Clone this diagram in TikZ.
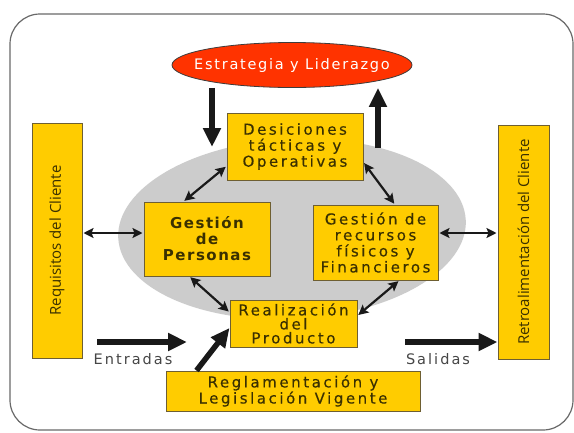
\documentclass[tikz,border=0pt]{standalone}
\usepackage{fontspec}
\setmainfont{DejaVu Sans}
\newfontfamily\boxfont[LetterSpace=17,FakeBold=0.3]{DejaVu Sans}
\newfontfamily\boldboxfont[LetterSpace=10]{DejaVu Sans Bold}
\newfontfamily\leadfont[LetterSpace=12]{DejaVu Sans}
\newfontfamily\lblfont[LetterSpace=14]{DejaVu Sans}
\newfontfamily\sidefont{Open Sans}
\usetikzlibrary{arrows.meta,shapes.geometric}
\definecolor{boxyellow}{RGB}{255,204,0}
\definecolor{boxedge}{RGB}{110,95,50}
\definecolor{boxtext}{RGB}{58,48,0}
\definecolor{redfill}{RGB}{255,51,0}
\definecolor{coregray}{RGB}{204,204,204}
\definecolor{arrowblack}{RGB}{25,25,25}
\definecolor{labelgray}{RGB}{70,70,70}
\definecolor{framegray}{RGB}{105,105,105}
\begin{document}
\begin{tikzpicture}[x=1pt,y=-1pt,
  ybox/.style={draw=boxedge, line width=1pt, fill=boxyellow, inner sep=0pt, align=center,
    text=boxtext, font=\boxfont\fontsize{15}{16}\selectfont},
  sidebox/.style={ybox, rotate=90, font=\sidefont\fontsize{15}{18}\selectfont},
  dbl/.style={draw=arrowblack, line width=2.2pt,
    {Stealth[length=10pt,width=10pt,inset=2pt]}-{Stealth[length=10pt,width=10pt,inset=2pt]},
    shorten <=1pt, shorten >=1pt},
  big/.style={draw=arrowblack, line width=5.5pt, -{Triangle[length=19pt,width=17pt]}},
  lbl/.style={text=labelgray, font=\lblfont\fontsize{14.5}{16}\selectfont},
]
\useasboundingbox (0,0) rectangle (574,432);
\fill[white] (0,0) rectangle (574,432);
\draw[framegray, line width=1.2pt, rounded corners=30pt] (10,14) rectangle (573,430);

\node[ellipse, fill=coregray, minimum width=348pt, minimum height=180pt, inner sep=0pt, rotate=3] (core) at (292,229) {};

\node[ellipse, draw=arrowblack!85, line width=0.8pt, fill=redfill, minimum width=240pt,
  minimum height=45pt, inner sep=0pt,
  label={[text=white, font=\leadfont\fontsize{14.5}{16}\selectfont]center:Estrategia y Liderazgo}] (lead) at (292,65) {};

\node[ybox, minimum width=136pt, minimum height=67pt] (dec) at (295,146.5) {Desiciones\\tácticas y\\Operativas};
\node[ybox, font=\boldboxfont\fontsize{15}{16}\selectfont, minimum width=126pt, minimum height=74pt] (per) at (207,239) {Gestión\\de\\Personas};
\node[ybox, minimum width=125pt, minimum height=75pt] (rec) at (375.5,242.5) {Gestión de\\recursos\\físicos y\\Financieros};
\node[ybox, font=\boxfont\fontsize{15}{14}\selectfont, minimum width=127pt, minimum height=47pt] (rea) at (293.5,323.5) {Realización\\del\\Producto};
\node[ybox, font=\boxfont\fontsize{15}{14}\selectfont, minimum width=254pt, minimum height=40pt] (reg) at (293,391) {Reglamentación y\\Legislación Vigente};

\node[sidebox, minimum width=235pt, minimum height=50pt] (req) at (57,240.5) {Requisitos del Cliente};
\node[sidebox, minimum width=234pt, minimum height=51pt] (ret) at (523.5,242) {Retroalimentación del Cliente};

% double arrows between boxes
\draw[dbl] (dec.196) -- (per.122);
\draw[dbl] (dec.347) -- (rec.63);
\draw[dbl] (per.245) -- (rea.170);
\draw[dbl] (rec.302) -- (rea.7);
\coordinate (pl) at ([yshift=6pt]per.west);
\draw[dbl] (pl) -- (pl -| req.south);
\coordinate (pr) at ([yshift=9.5pt]rec.east);
\draw[dbl] (pr) -- (pr -| ret.north);

% thick arrows
\coordinate (dn) at (212,147);
\draw[big] (dn |- lead.south) -- (dn);
\coordinate (upb) at (378,148);
\draw[big] (upb) -- (upb |- lead.south);
\coordinate (ein) at (97,342);
\coordinate (eout) at (187,342);
\draw[big] (ein) -- (eout);
\coordinate (sin) at (405,342);
\draw[big] (sin) -- (sin -| ret.north);
\draw[big] ([xshift=31pt]reg.north west) -- (rea.184);

\node[lbl] (ent) at (133,359) {Entradas};
\node[lbl] (sal) at (438,359) {Salidas};
\end{tikzpicture}
\end{document}
